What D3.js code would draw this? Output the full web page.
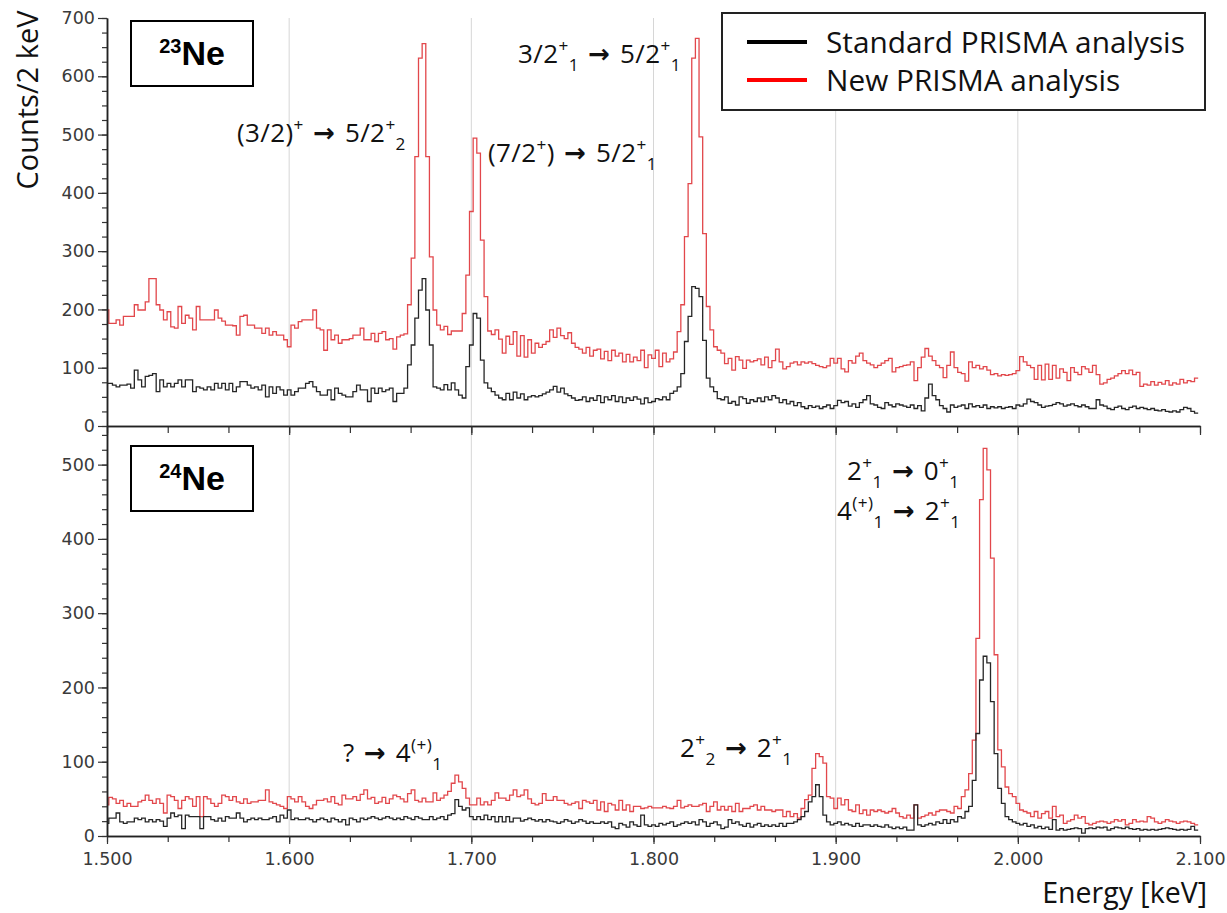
<!DOCTYPE html>
<html>
<head>
<meta charset="utf-8">
<script src="https://cdn.jsdelivr.net/npm/d3@7"></script>
<style>
  body { margin: 0; background: #fff; }
  .tick text { font-family: 'DejaVu Sans', sans-serif; fill: #3a3a3a; }
</style>
</head>
<body>
<svg id="chart" width="1227" height="913"></svg>
<script>
// Histogram bins: 2 keV wide, first bin centred on 1500 keV
var binStart = 1500
var binWidth = 2

// 23Ne, standard PRISMA analysis (counts / 2 keV)
var topStandard = [
  73, 73, 70, 67, 70, 70, 72, 65, 96, 79, 67, 85, 87, 90, 59, 79, 67, 73, 67, 73,
  79, 67, 79, 79, 59, 67, 65, 62, 67, 62, 73, 65, 73, 62, 73, 59, 67, 76, 76, 70,
  65, 67, 62, 70, 50, 67, 56, 67, 62, 53, 62, 53, 59, 65, 65, 73, 76, 67, 59, 53,
  53, 62, 45, 65, 56, 53, 50, 50, 59, 70, 62, 62, 42, 65, 56, 65, 59, 62, 65, 42,
  56, 56, 65,
  105, 139, 185, 233, 253, 199, 139, 67, 65, 62, 71, 62, 74, 62, 53, 48, 102, 139, 193, 185,
  113, 74, 65, 59, 53, 48, 45, 56,
  45, 58, 48, 55, 45, 50, 52, 50, 52, 55, 58, 62, 68, 58, 65, 55, 52, 48, 44, 45,
  50, 42, 48, 44, 52, 40, 50, 45, 52, 42, 50, 40, 48, 44, 50, 46, 38, 48, 40,
  42, 47, 45, 50, 45, 56, 60, 67, 90, 145, 188, 239, 236, 222, 147, 82, 67, 59, 47, 45,
  50, 39, 42, 36, 50, 47, 39, 45, 42,
  48, 42, 50, 45, 52, 48, 40, 45, 38, 42, 35, 40,
  33, 30, 35, 32, 34, 30, 33, 36, 30, 35, 44, 40, 42, 34, 38, 32, 40, 45, 52, 38,
  36, 32, 30, 40, 36, 33, 38, 36, 34, 32, 36, 30, 35, 26, 48, 72, 52, 45, 35, 30,
  24, 36, 32, 34, 36, 30, 38, 33, 35, 32, 36, 30, 33, 31, 33, 30, 32, 33, 30, 36,
  34, 38, 46, 42, 40, 36, 32, 34, 35, 37, 40, 38, 34, 36, 38, 35, 33, 36, 33, 30,
  30, 45, 36, 34, 30, 28, 32, 34, 30, 28, 32, 34, 30, 32, 30, 28, 30, 27, 26, 28,
  25, 24, 26, 24, 28, 32, 30, 25, 22
]

// 23Ne, new PRISMA analysis
var topNew = [
  199, 176, 176, 182, 173, 188, 188, 188, 208, 199, 199, 213, 253, 253, 208, 199, 182, 196, 170, 168,
  205, 176, 190, 185, 165, 205, 182, 182, 182, 182, 199, 185, 180, 173, 173, 172, 156, 188, 190, 173,
  173, 168, 168, 159, 168, 156, 162, 156, 156, 148, 136, 173, 168, 179, 182, 182, 182, 199, 168, 165,
  130, 165, 148, 156, 142, 148, 148, 150, 156, 156, 168, 148, 148, 159, 145, 159, 162, 148, 150, 132,
  153, 156, 158,
  208, 288, 462, 631, 656, 462, 290, 199, 173, 165, 171, 157, 163, 163, 163, 193, 259, 368, 494, 468,
  319, 222, 163, 157, 165, 149, 125, 154,
  140, 162, 120, 155, 118, 148, 125, 142, 135, 140, 145, 165, 152, 168, 155, 150, 160, 142, 135, 132,
  125, 135, 120, 130, 132, 115, 128, 112, 130, 120, 125, 110, 123, 110, 118, 112, 130, 100, 122,
  116, 130, 102, 125, 110, 115, 127, 162, 208, 325, 416, 631, 665, 496, 330, 205, 165, 136, 130, 125,
  107, 116, 96, 119, 113, 99, 113, 110, 112,
  115, 105, 118, 100, 112, 132, 110, 98, 102, 108, 110, 105,
  110, 108, 110, 107, 104, 102, 100, 103, 116, 108, 116, 98, 93, 112, 108, 120, 125, 112, 108, 105,
  100, 104, 108, 112, 116, 93, 100, 102, 104, 105, 110, 78, 100, 118, 133, 120, 112, 104, 100, 83,
  104, 127, 100, 92, 90, 77, 110, 100, 104, 98, 102, 96, 88, 90, 86, 88, 87, 88, 90, 95,
  119, 110, 104, 100, 80, 104, 79, 106, 80, 104, 82, 98, 92, 78, 100, 92, 88, 102, 98, 92,
  104, 88, 72, 74, 80, 82, 86, 90, 95, 90, 96, 88, 92, 68, 72, 70, 76, 70, 75, 72,
  78, 70, 74, 72, 80, 74, 78, 76, 82
]

// 24Ne, standard PRISMA analysis
var bottomStandard = [
  17, 24, 24, 31, 19, 17, 19, 19, 24, 22, 24, 19, 22, 19, 22, 20, 13, 24, 31, 26,
  28, 10, 28, 26, 26, 26, 10, 26, 26, 22, 20, 24, 20, 26, 24, 24, 31, 24, 19, 22,
  24, 22, 24, 22, 22, 24, 26, 19, 28, 24, 35, 22, 24, 22, 22, 24, 22, 19, 22, 24,
  22, 19, 24, 22, 19, 22, 15, 24, 22, 19, 24, 22, 24, 26, 24, 22, 24, 26, 24, 22,
  24, 22, 26, 24, 22, 26,
  24, 22, 22, 26, 22, 24, 26, 22, 28, 30, 49, 40, 35, 38, 26, 22, 26, 22, 28, 22,
  26, 19, 26, 19, 26, 19, 24,
  24, 20, 22, 24, 22, 20, 22, 19, 22, 20, 19, 17, 19, 22, 20, 17, 19, 22, 20, 17,
  19, 17, 17, 19, 17, 19, 12, 10, 17, 15, 12, 19, 15, 13, 28, 15, 13, 15, 13, 17,
  15, 17, 19, 13, 15, 17, 19, 17, 19, 15, 22, 19, 13, 17, 19, 15, 10, 12, 22, 17,
  19, 15, 13, 17, 12, 15, 17, 13, 15,
  13, 15, 13, 17, 13, 17, 17, 19, 22, 26, 33, 46, 53, 69, 53, 28, 19, 15, 17, 19,
  15, 17, 15, 13, 17, 13, 15, 15,
  13, 15, 13, 12, 15, 12, 10, 12, 10, 12, 8, 8, 42, 15, 13, 15, 17, 15, 19, 17, 22,
  17, 22, 19, 26, 24, 33, 40, 75, 138, 210, 242, 233, 181, 111, 64, 44, 26, 22, 19, 17,
  15, 17, 13, 15, 11, 13,
  10, 12, 9, 22, 8, 10, 8, 9, 10, 11, 10, 4, 10, 11, 10, 12, 11, 12, 8, 10,
  12, 11, 10, 12, 10, 9, 10, 8, 9, 8, 9, 8, 9, 10, 11, 10, 9, 8, 9, 8,
  9, 13, 8
]

// 24Ne, new PRISMA analysis
var bottomNew = [
  42, 52, 50, 44, 48, 40, 44, 40, 40, 46, 48, 55, 48, 44, 50, 44, 31, 55, 53, 48,
  37, 48, 53, 50, 40, 53, 26, 53, 50, 44, 40, 44, 55, 53, 48, 53, 46, 44, 50, 44,
  46, 46, 48, 48, 62, 46, 44, 42, 40, 37, 53, 50, 46, 53, 46, 40, 37, 42, 48, 48,
  50, 46, 53, 44, 42, 55, 50, 50, 53, 48, 56, 62, 50, 52, 44, 46, 52, 44, 50, 55,
  53, 50, 46, 57, 62, 48,
  46, 51, 46, 46, 58, 48, 51, 55, 60, 71, 82, 73, 64, 51, 42, 42, 51, 42, 46, 42,
  48, 58, 51, 51, 48, 55, 62,
  53, 55, 62, 50, 44, 42, 44, 57, 48, 48, 53, 48, 48, 44, 42, 44, 46, 37, 48, 46,
  44, 48, 35, 46, 33, 44, 42, 35, 48, 35, 42, 33, 40, 40, 37, 38, 40, 38, 38, 38,
  40, 38, 37, 40, 48, 38, 40, 42, 40, 40, 42, 44, 33, 40, 46, 35, 40, 35, 40, 33,
  44, 33, 37, 37, 40, 42, 35, 40, 35,
  35, 33, 35, 35, 26, 33, 26, 30, 24, 37, 49, 55, 91, 111, 107, 98, 53, 51, 37, 51,
  42, 49, 35, 33, 42, 30, 35, 28,
  35, 33, 35, 33, 31, 33, 37, 31, 26, 24, 28, 24, 42, 24, 26, 28, 31, 28, 33, 35, 35,
  33, 31, 40, 37, 53, 62, 84, 129, 266, 453, 522, 493, 374, 244, 116, 93, 66, 57, 53, 44,
  35, 33, 31, 26, 33, 24,
  30, 33, 24, 40, 26, 28, 17, 20, 22, 28, 24, 26, 17, 15, 17, 19, 20, 19, 17, 19,
  22, 20, 22, 15, 17, 22, 19, 20, 19, 26, 24, 19, 17, 19, 22, 20, 19, 17, 19, 20,
  19, 17, 15
]

// Axis ticks
var xMajorTicks = [1500, 1600, 1700, 1800, 1900, 2000, 2100]
var topYTicks = [0, 100, 200, 300, 400, 500, 600, 700]
var bottomYTicks = [0, 100, 200, 300, 400, 500]
var seriesNames = ['Standard PRISMA analysis', 'New PRISMA analysis']
var seriesColours = ['#262626', '#e2474b']
var legendColours = ['#000000', '#ff0000']

// Layout
var plotLeft = 107
var plotRight = 1200
var topPanel = { top: 18, bottom: 426 }
var bottomPanel = { top: 426, bottom: 836 }

var svg = d3.select('#chart')

var x = d3.scaleLinear().domain([1500, 2100]).range([plotLeft, plotRight])
var yTop = d3.scaleLinear().domain([0, 700]).range([topPanel.bottom, topPanel.top])
var yBottom = d3.scaleLinear().domain([0, 552]).range([bottomPanel.bottom, bottomPanel.top])

// Minor ticks: thirds between the labelled energies, 25 / 20 counts on y
var xMinorTicks = d3.range(0, 19).map(function (k) { return 1500 + k * 100 / 3 })
var topYMinor = d3.range(0, 701, 25)
var bottomYMinor = d3.range(0, 541, 20)

svg.append('clipPath').attr('id', 'clip-top')
  .append('rect').attr('x', plotLeft).attr('y', topPanel.top)
  .attr('width', plotRight - plotLeft).attr('height', topPanel.bottom - topPanel.top)
svg.append('clipPath').attr('id', 'clip-bottom')
  .append('rect').attr('x', plotLeft).attr('y', bottomPanel.top)
  .attr('width', plotRight - plotLeft).attr('height', bottomPanel.bottom - bottomPanel.top)

/**
 * Draws vertical grid lines at the labelled energies for one panel
 */
function drawGrid (panel) {
  svg.append('g').selectAll('line')
    .data(xMajorTicks.slice(1, -1))
    .enter().append('line')
    .attr('x1', function (d) { return x(d) })
    .attr('x2', function (d) { return x(d) })
    .attr('y1', panel.top)
    .attr('y2', panel.bottom)
    .style('stroke', '#d6d6d6')
    .style('stroke-width', 1)
}

/**
 * Draws one spectrum as a step histogram
 */
function drawSpectrum (values, yScale, clipId, colour) {
  var points = values.map(function (v, i) { return [binStart + i * binWidth - binWidth / 2, v] })
  points.push([binStart + values.length * binWidth - binWidth / 2, values[values.length - 1]])

  var line = d3.line()
    .x(function (d) { return x(d[0]) })
    .y(function (d) { return yScale(d[1]) })
    .curve(d3.curveStepAfter)

  svg.append('path')
    .datum(points)
    .attr('clip-path', 'url(#' + clipId + ')')
    .attr('d', line)
    .style('fill', 'none')
    .style('stroke', colour)
    .style('stroke-width', 1.3)
}

/**
 * Adds a text made of normal, superscript, subscript and arrow pieces
 */
function richText (x0, y0, parts, size) {
  var t = svg.append('text')
    .attr('x', x0)
    .attr('y', y0)
    .style('font-family', "'Open Sans', sans-serif")
    .style('font-size', size + 'px')
    .style('letter-spacing', '0.4px')
    .style('fill', '#111')
  var shift = 0
  parts.forEach(function (p) {
    var target = p.sup ? -0.42 * size : (p.sub ? 0.3 * size : 0)
    var span = t.append('tspan')
      .attr('dy', target - shift)
      .style('font-size', (p.sup || p.sub ? size * 0.66 : size) + 'px')
      .text(p.t)
    if (p.arrow) {
      span.style('font-family', "'DejaVu Sans', sans-serif").style('font-weight', 'bold')
    }
    shift = target
  })
  return t
}

drawGrid(topPanel)
drawGrid(bottomPanel)

drawSpectrum(topNew, yTop, 'clip-top', seriesColours[1])
drawSpectrum(topStandard, yTop, 'clip-top', seriesColours[0])
drawSpectrum(bottomNew, yBottom, 'clip-bottom', seriesColours[1])
drawSpectrum(bottomStandard, yBottom, 'clip-bottom', seriesColours[0])

// Axes
function styleAxis (g) {
  g.select('.domain').style('stroke', '#222').style('stroke-width', 1.5)
  g.selectAll('.tick line').style('stroke', '#333').style('stroke-width', 1.2)
  g.selectAll('.tick text').style('font-size', '17.5px')
}

// Shared line between the panels (top panel x axis)
svg.append('g')
  .attr('transform', 'translate(0,' + topPanel.bottom + ')')
  .call(d3.axisBottom(x).tickValues(xMinorTicks).tickSize(7).tickSizeOuter(0).tickFormat(''))
  .call(styleAxis)
svg.append('g')
  .attr('transform', 'translate(0,' + topPanel.bottom + ')')
  .call(d3.axisBottom(x).tickValues(xMajorTicks).tickSize(9).tickSizeOuter(0).tickFormat(''))
  .call(styleAxis)

// Bottom x axis with labels like 1.500
svg.append('g')
  .attr('transform', 'translate(0,' + bottomPanel.bottom + ')')
  .call(d3.axisBottom(x).tickValues(xMinorTicks).tickSize(6).tickSizeOuter(0).tickFormat(''))
  .call(styleAxis)
svg.append('g')
  .attr('transform', 'translate(0,' + bottomPanel.bottom + ')')
  .call(d3.axisBottom(x).tickValues(xMajorTicks).tickSize(8).tickPadding(9).tickSizeOuter(0)
    .tickFormat(function (d) { return (d / 1000).toFixed(3) }))
  .call(styleAxis)

// Left axes
svg.append('g')
  .attr('transform', 'translate(' + plotLeft + ',0)')
  .call(d3.axisLeft(yTop).tickValues(topYMinor).tickSize(5).tickSizeOuter(0).tickFormat(''))
  .call(styleAxis)
svg.append('g')
  .attr('transform', 'translate(' + plotLeft + ',0)')
  .call(d3.axisLeft(yTop).tickValues(topYTicks).tickSize(9).tickPadding(3).tickSizeOuter(0))
  .call(styleAxis)
svg.append('g')
  .attr('transform', 'translate(' + plotLeft + ',0)')
  .call(d3.axisLeft(yBottom).tickValues(bottomYMinor).tickSize(5).tickSizeOuter(0).tickFormat(''))
  .call(styleAxis)
svg.append('g')
  .attr('transform', 'translate(' + plotLeft + ',0)')
  .call(d3.axisLeft(yBottom).tickValues(bottomYTicks).tickSize(9).tickPadding(3).tickSizeOuter(0))
  .call(styleAxis)

// Axis titles
svg.append('text')
  .attr('transform', 'translate(38,100) rotate(-90)')
  .attr('text-anchor', 'middle')
  .style('font-family', "'Open Sans', sans-serif")
  .style('font-size', '29px')
  .style('fill', '#111')
  .text('Counts/2 keV')

svg.append('text')
  .attr('x', 1207)
  .attr('y', 903)
  .attr('text-anchor', 'end')
  .style('font-family', "'Open Sans', sans-serif")
  .style('font-size', '28.5px')
  .style('fill', '#111')
  .text('Energy [keV]')

// Nucleus boxes
function nucleusBox (y0, mass) {
  svg.append('rect')
    .attr('x', 131).attr('y', y0)
    .attr('width', 122).attr('height', 65)
    .style('fill', '#fff')
    .style('stroke', '#000')
    .style('stroke-width', 2)
  var t = svg.append('text')
    .attr('x', 192)
    .attr('y', y0 + 44)
    .attr('text-anchor', 'middle')
    .style('font-family', "'Liberation Sans', Arial, sans-serif")
    .style('font-weight', 'bold')
    .style('fill', '#000')
  t.append('tspan').attr('dy', -12).style('font-size', '20px').text(mass)
  t.append('tspan').attr('dy', 12).style('font-size', '34px').text('Ne')
}
nucleusBox(21, '23')
nucleusBox(446, '24')

// Legend
svg.append('rect')
  .attr('x', 722).attr('y', 13)
  .attr('width', 483).attr('height', 97)
  .style('fill', '#fff')
  .style('stroke', '#222')
  .style('stroke-width', 2)

seriesNames.forEach(function (name, i) {
  var ly = 42 + i * 38
  svg.append('line')
    .attr('x1', 747).attr('x2', 807)
    .attr('y1', ly).attr('y2', ly)
    .style('stroke', legendColours[i])
    .style('stroke-width', 4)
  svg.append('text')
    .attr('x', 826)
    .attr('y', ly + 11)
    .style('font-family', "'Open Sans', sans-serif")
    .style('font-size', '29.8px')
    .style('fill', '#111')
    .text(name)
})

// Transition labels
var arrow = { t: ' \u2192 ', arrow: true }
richText(237, 142, [{ t: '(3/2)' }, { t: '+', sup: true }, arrow, { t: '5/2' }, { t: '+', sup: true }, { t: '2', sub: true }], 26)
richText(488, 162, [{ t: '(7/2' }, { t: '+', sup: true }, { t: ')' }, arrow, { t: '5/2' }, { t: '+', sup: true }, { t: '1', sub: true }], 26)
richText(518, 63, [{ t: '3/2' }, { t: '+', sup: true }, { t: '1', sub: true }, arrow, { t: '5/2' }, { t: '+', sup: true }, { t: '1', sub: true }], 26)
richText(343, 762, [{ t: '?' }, arrow, { t: '4' }, { t: '(+)', sup: true }, { t: '1', sub: true }], 26)
richText(680, 757, [{ t: '2' }, { t: '+', sup: true }, { t: '2', sub: true }, arrow, { t: '2' }, { t: '+', sup: true }, { t: '1', sub: true }], 26)
richText(847, 480, [{ t: '2' }, { t: '+', sup: true }, { t: '1', sub: true }, arrow, { t: '0' }, { t: '+', sup: true }, { t: '1', sub: true }], 26)
richText(837, 520, [{ t: '4' }, { t: '(+)', sup: true }, { t: '1', sub: true }, arrow, { t: '2' }, { t: '+', sup: true }, { t: '1', sub: true }], 26)
</script>
</body>
</html>
